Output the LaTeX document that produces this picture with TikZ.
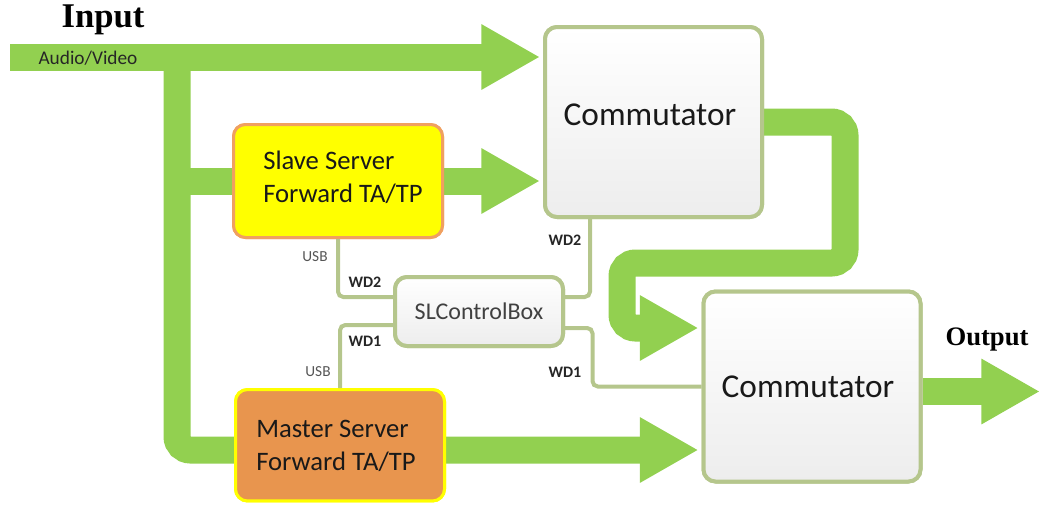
\documentclass[tikz,border=0pt]{standalone}
\usepackage{fontspec}
\setmainfont{Carlito}
\newfontfamily\titlefont{Liberation Serif}
\usetikzlibrary{arrows.meta,calc}

\definecolor{band}{HTML}{92D050}
\definecolor{wire}{HTML}{B5C68C}
\definecolor{slavefill}{HTML}{FFFF00}
\definecolor{slaveedge}{HTML}{F0A060}
\definecolor{masterfill}{HTML}{E8954E}
\definecolor{masteredge}{HTML}{FFFF00}
\definecolor{boxgrey}{HTML}{EDEDED}
\definecolor{labelgrey}{HTML}{555555}

\begin{document}
\begin{tikzpicture}[x=0.75pt,y=-0.75pt,
  flow/.style={draw=band, line width=20.25pt, rounded corners=10pt},
  flowtip/.style={-{Triangle[length=44pt,width=46pt]}},
  wireline/.style={draw=wire, line width=3pt, rounded corners=4pt},
  commbox/.style={rectangle, rounded corners=9pt, draw=wire, line width=3pt,
    top color=white, bottom color=boxgrey, inner sep=0pt,
    minimum width=162.75pt, minimum height=142.5pt},
  ctlbox/.style={rectangle, rounded corners=9pt, draw=wire, line width=3pt,
    top color=white, bottom color=boxgrey, inner sep=0pt,
    minimum width=126pt, minimum height=51.75pt,
    font=\fontsize{18pt}{21pt}\selectfont, text=black!75},
  slavebox/.style={rectangle, rounded corners=9pt, draw=slaveedge, fill=slavefill,
    line width=2.25pt, inner sep=0pt, minimum width=156.75pt, minimum height=84.75pt},
  masterbox/.style={rectangle, rounded corners=9pt, draw=masteredge, fill=masterfill,
    line width=2.25pt, inner sep=0pt, minimum width=156.75pt, minimum height=83.6pt},
  servertext/.style={anchor=west, align=left, inner sep=0pt,
    font=\fontsize{20pt}{25pt}\selectfont, text=black!90},
  commtext/.style={inner sep=0pt, font=\fontsize{25pt}{30pt}\selectfont, text=black!90},
  usb/.style={inner sep=0pt, font=\fontsize{11.5pt}{13pt}\selectfont, text=labelgrey},
  wd/.style={inner sep=0pt, font=\bfseries\fontsize{12pt}{14pt}\selectfont, text=black!85}
]
\useasboundingbox (0,0) rectangle (1040,504);
\clip (0,0) rectangle (1040,504);

% boxes (placed first so the flows can refer to them)
\node[commbox] (c1) at (653.5,122) {};
\node[commbox] (c2) at (812,386.5) {};
\node[slavebox] (slave) at (338,181) {};
\node[masterbox] (master) at (340,445.25) {};
\node[ctlbox] (ctl) at (479,311.5) {};

% thick green signal flows
\coordinate (in) at (10,57);
\coordinate (split) at (177,57);
\coordinate (out) at (1040,391.5);
\draw[flow,flowtip] (in) -- ($(c1.west |- in)+(-3,0)$);
\draw[flow,flowtip] (split) |- ($(c2.west |- 0,450)+(-3,0)$);
\draw[flow,flowtip] (split |- slave.west) -- ($(c1.west |- slave.east)+(-3,0)$);
\draw[flow,flowtip] (c1.east) -- ++(81,0) -- ++(0,141) -- ++(-223,0)
   |- ($(c2.west)+(-3,-58.5)$);
\draw[flow,flowtip] ($(c2.east)+(0,5)$) -- (out);

% boxes drawn again over the flows
\node[commbox] at (c1) {};
\node[commbox] at (c2) {};
\node[slavebox] at (slave) {};
\node[masterbox] at (master) {};

% control wires
\draw[wireline] (slave.south) |- ($(ctl.west)+(0,-14.5)$);
\draw[wireline] ($(ctl.west)+(0,13.5)$) -| (master.north);
\draw[wireline] ($(ctl.east)+(0,-14.5)$) -| ($(c1.south west)+(47,0)$);
\draw[wireline] ($(ctl.east)+(0,16.5)$) -| ($(c2.west)+(-109,0)$) -- (c2.west);
\node[ctlbox] at (ctl) {SLControlBox};

% texts
\node[commtext] at (650,115) {Commutator};
\node[commtext] at (808,387) {Commutator};
\node[servertext] at (263,177) {Slave Server\\Forward TA/TP};
\node[servertext] at (256,446) {Master Server\\Forward TA/TP};

\node[inner sep=0pt, font=\titlefont\bfseries\fontsize{26pt}{30pt}\selectfont] at (103,20) {Input};
\node[inner sep=0pt, font=\titlefont\bfseries\fontsize{20pt}{24pt}\selectfont] at (987,340) {Output};
\node[inner sep=0pt, font=\fontsize{14.5pt}{17pt}\selectfont, text=black!85] at (88,58) {Audio/Video};

\node[usb] at (315,257) {USB};
\node[wd] at (365,282) {WD2};
\node[wd] at (365,341) {WD1};
\node[usb] at (318,372) {USB};
\node[wd] at (565,240) {WD2};
\node[wd] at (565,372) {WD1};
\end{tikzpicture}
\end{document}
